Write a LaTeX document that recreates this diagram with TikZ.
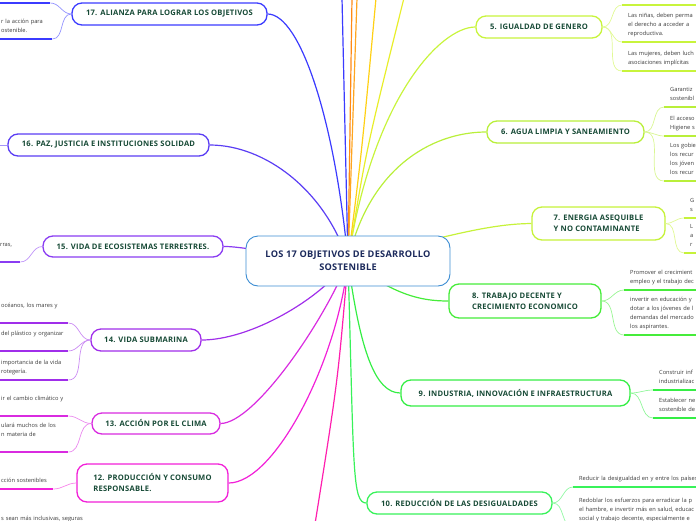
\documentclass[tikz,border=0pt]{standalone}
\usepackage{fontspec}
\setmainfont{Open Sans}
\newfontfamily\topicfont{Open Sans}[LetterSpace=3]
\usepackage{tikz}
\usetikzlibrary{backgrounds}

\definecolor{rootline}{HTML}{3C8DD3}
\definecolor{roottext}{HTML}{1C2A5C}
\definecolor{topictext}{HTML}{174A36}
\definecolor{notetext}{HTML}{3A3A3A}
\definecolor{cTa}{HTML}{3B3BFF}
\definecolor{cTb}{HTML}{FF8A14}
\definecolor{cTc}{HTML}{FFA51F}
\definecolor{cTd}{HTML}{FFD014}
\definecolor{cTe}{HTML}{E8EE2A}
\definecolor{cV}{HTML}{C8F43C}
\definecolor{cVI}{HTML}{B9EF3A}
\definecolor{cVII}{HTML}{C6F23A}
\definecolor{cVIII}{HTML}{46EC3A}
\definecolor{cIX}{HTML}{35EE45}
\definecolor{cX}{HTML}{38F25A}
\definecolor{cXI}{HTML}{FF1FAE}
\definecolor{cXII}{HTML}{F220D8}
\definecolor{cXIII}{HTML}{D92BE0}
\definecolor{cXIV}{HTML}{A02EEA}
\definecolor{cXV}{HTML}{8A3CF2}
\definecolor{cXVI}{HTML}{5A3DF4}
\definecolor{cXVII}{HTML}{3B3BFF}

\tikzset{
  root/.style={draw=rootline, line width=0.9pt, fill=white, rounded corners=12pt,
    text=roottext, font=\topicfont\fontsize{9.2}{13}\selectfont\bfseries, align=center,
    minimum width=204pt, minimum height=50pt, inner sep=0pt},
  topic/.style={draw=#1, line width=1.3pt, fill=white, rounded corners=10pt,
    text=topictext, font=\topicfont\fontsize{7.6}{11}\selectfont\bfseries, align=left, inner sep=0pt},
  branch/.style={draw=#1, line width=1.2pt},
  twig/.style={draw=#1!55, line width=0.7pt},
  noteR/.style={anchor=south west, align=left, text=notetext, font=\fontsize{5.7}{9}\selectfont,
    inner xsep=6pt, inner ysep=3.8pt, text width=160pt, execute at end node=\strut},
  noteL/.style={anchor=south west, align=left, text=notetext, font=\fontsize{5.7}{9}\selectfont,
    inner xsep=2pt, inner ysep=3.8pt, text width=#1, execute at end node=\strut},
}

\begin{document}
\begin{tikzpicture}[x=1pt,y=-1pt]
\useasboundingbox (0,0) rectangle (696,520);
\clip (0,0) rectangle (696,520);

% Root
\node[root] (root) at (348,261) {LOS 17 OBJETIVOS DE DESARROLLO\\SOSTENIBLE};

% Right side
\node[topic=cV, minimum width=126pt, minimum height=22pt] (t5) at (539,27) {5. IGUALDAD DE GENERO};
\node[topic=cVI, minimum width=157pt, minimum height=22pt] (t6) at (565.5,132) {6. AGUA LIMPIA Y SANEAMIENTO};
\node[topic=cVII, minimum width=133pt, minimum height=33pt] (t7) at (598.5,223.5) {7. ENERGIA ASEQUIBLE\\Y NO CONTAMINANTE};
\node[topic=cVIII, minimum width=152pt, minimum height=34pt] (t8) at (525,301) {8. TRABAJO DECENTE Y\\CRECIMIENTO ECONOMICO};
\node[topic=cIX, minimum width=229pt, minimum height=26pt] (t9) at (515.5,393) {9. INDUSTRIA, INNOVACIÓN E INFRAESTRUCTURA};
\node[topic=cX, minimum width=185pt, minimum height=22pt] (t10) at (459.5,503) {10. REDUCCIÓN DE LAS DESIGUALDADES};

% Left side
\node[topic=cXII, minimum width=151pt, minimum height=38pt] (t12) at (152.5,483) {12. PRODUCCIÓN Y CONSUMO\\RESPONSABLE.};
\node[topic=cXIII, minimum width=128pt, minimum height=21pt] (t13) at (156,423.5) {13. ACCIÓN POR EL CLIMA};
\node[topic=cXIV, minimum width=110pt, minimum height=22pt] (t14) at (146,340) {14. VIDA SUBMARINA};
\node[topic=cXV, minimum width=180pt, minimum height=21pt] (t15) at (133,246.5) {15. VIDA DE ECOSISTEMAS TERRESTRES.};
\node[topic=cXVI, minimum width=201pt, minimum height=22pt] (t16) at (108.5,145) {16. PAZ, JUSTICIA E INSTITUCIONES SOLIDAD};
\node[topic=cXVII, minimum width=195pt, minimum height=22pt] (t17) at (169.5,14) {17. ALIANZA PARA LOGRAR LOS OBJETIVOS};

% Loose ends (branches leaving the page)
\coordinate (e11) at (315,524);
\coordinate (e16) at (-2,145);
\coordinate (up1) at (342,-2);
\coordinate (up2) at (352,-2);
\coordinate (up3) at (357,-2);
\coordinate (up4) at (376,-2);
\coordinate (up5) at (404,-2);

% Notes, right
\node[noteR] (n5a) at (622,5) {};
\node[noteR] (n5b) at (622,42) {Las niñas, deben perma\\el derecho a acceder a\\reproductiva.};
\node[noteR] (n5c) at (622,71) {Las mujeres, deben luch\\asociaciones implícitas};
\node[noteR] (n6a) at (664,107) {Garantiz\\sostenibl};
\node[noteR] (n6b) at (664,136) {El acceso\\Higiene s};
\node[noteR] (n6c) at (664,181) {Los gobie\\los recur\\los jóven\\los recur};
\node[noteR] (n7a) at (684,218) {G\\s};
\node[noteR] (n7b) at (684,253) {L\\a\\r};
\node[noteR] (n8a) at (624,290) {Promover el crecimient\\empleo y el trabajo dec};
\node[noteR] (n8b) at (624,335) {invertir en educación y\\dotar a los jóvenes de l\\demandas del mercado\\los aspirantes.};
\node[noteR] (n9a) at (653,390) {Construir inf\\industrializac};
\node[noteR] (n9b) at (653,418) {Establecer ne\\sostenible de};
\node[noteR] (n10a) at (573,487) {Reducir la desigualdad en y entre los países};
\node[noteR] (n10b) at (573,527) {Redoblar los esfuerzos para erradicar la p\\el hambre, e invertir más en salud, educac\\social y trabajo decente, especialmente e};

% Notes, left
\node[noteL=47pt] (n17a) at (-1,3) {};
\node[noteL=49pt] (n17b) at (-1,39) {r la acción para\\ostenible.};
\node[anchor=south west, text=notetext, font=\fontsize{5.7}{9}\selectfont, inner xsep=1pt,
  inner ysep=3.8pt, text depth=11.5pt] (n15a) at (-1,262) {\makebox[19pt][l]{rras,}};
\node[noteL=65pt] (n14a) at (-1,323) {océanos, los mares y\\\strut};
\node[noteL=65pt] (n14b) at (-1,351) {del plástico y organizar\\\strut};
\node[noteL=65pt] (n14c) at (-1,380) {importancia de la vida\\rotegería.};
\node[noteL=65pt] (n13a) at (-1,416) {ir el cambio climático y\\\strut};
\node[noteL=65pt] (n13b) at (-1,452) {ulará muchos de los\\n materia de\\\strut};
\node[noteL=50pt] (n12a) at (-1,489) {cción sostenibles};
\node[noteL=100pt] (n11a) at (-1,527) {s sean más inclusivas, seguras};

% Branches from the root
\begin{pgfonlayer}{background}
\clip (0,0) rectangle (696,520);
\draw[branch=cXVII] (root.center) .. controls (335,120) and (300,14) .. (t17.east);
\draw[branch=cXVI] (root.center) .. controls (325,190) and (265,145) .. (t16.east);
\draw[branch=cXV] (root.center) .. controls (280,255) and (240,246) .. (t15.east);
\draw[branch=cXIV] (root.center) .. controls (320,300) and (250,340) .. (t14.east);
\draw[branch=cXIII] (root.center) .. controls (325,320) and (255,423) .. (t13.east);
\draw[branch=cXII] (root.center) .. controls (338,360) and (275,483) .. (t12.east);
\draw[branch=cXI] (root.center) .. controls (338,380) .. (e11);
\draw[branch=cX] (root.center) .. controls (354,470) and (352,503) .. (t10.west);
\draw[branch=cIX] (root.center) .. controls (360,350) and (375,393) .. (t9.west);
\draw[branch=cVIII] (root.center) .. controls (395,295) and (420,301) .. (t8.west);
\draw[branch=cVII] (root.center) .. controls (450,235) and (490,224) .. (t7.west);
\draw[branch=cVI] (root.center) .. controls (368,170) and (430,132) .. (t6.west);
\draw[branch=cV] (root.center) .. controls (372,100) and (440,27) .. (t5.west);
\draw[branch=cTa] (root.center) -- (up1);
\draw[branch=cTb] (root.center) -- (up2);
\draw[branch=cTc] (root.center) -- (up3);
\draw[branch=cTd] (root.center) .. controls (362,150) .. (up4);
\draw[branch=cTe] (root.center) .. controls (366,150) .. (up5);
\end{pgfonlayer}

% Twigs to the notes
\foreach \n in {n5a,n5b,n5c} \draw[twig=cV] (t5.east) to[out=0,in=180] (\n.south west);
\foreach \n in {n6a,n6b,n6c} \draw[twig=cVI] (t6.east) to[out=0,in=180] (\n.south west);
\foreach \n in {n7a,n7b} \draw[twig=cVII] (t7.east) to[out=0,in=180] (\n.south west);
\foreach \n in {n8a,n8b} \draw[twig=cVIII] (t8.east) to[out=0,in=180] (\n.south west);
\foreach \n in {n9a,n9b} \draw[twig=cIX] (t9.east) to[out=0,in=180] (\n.south west);
\foreach \n in {n10a,n10b} \draw[twig=cX] (t10.east) to[out=0,in=180] (\n.south west);
\foreach \n in {n17a,n17b} \draw[twig=cXVII] (t17.west) to[out=180,in=0] (\n.south east);
\draw[twig=cXVI] (t16.west) -- (e16);
\draw[twig=cXV] (t15.west) to[out=180,in=0] (n15a.south east);
\foreach \n in {n14a,n14b,n14c} \draw[twig=cXIV] (t14.west) to[out=180,in=0] (\n.south east);
\foreach \n in {n13a,n13b} \draw[twig=cXIII] (t13.west) to[out=180,in=0] (\n.south east);
\draw[twig=cXII] (t12.west) to[out=180,in=0] (n12a.south east);

% Underlines
\foreach \n/\c in {n5a/cV,n5b/cV,n5c/cV,n6a/cVI,n6b/cVI,n6c/cVI,n7a/cVII,n7b/cVII,
    n8a/cVIII,n8b/cVIII,n9a/cIX,n9b/cIX,n10a/cX,n10b/cX,n17a/cXVII,n17b/cXVII,
    n15a/cXV,n14a/cXIV,n14b/cXIV,n14c/cXIV,n13a/cXIII,n13b/cXIII,n12a/cXII,n11a/cXI}
  \draw[line width=1.6pt,\c] (\n.south west) -- (\n.south east);

\end{tikzpicture}
\end{document}
